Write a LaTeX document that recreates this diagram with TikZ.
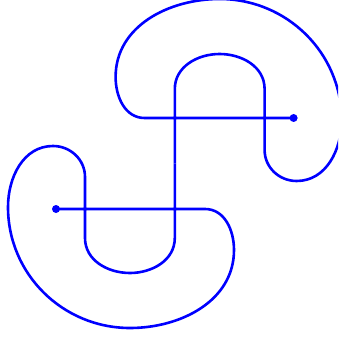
\documentclass[tikz,border=0pt]{standalone}
\begin{document}
\begin{tikzpicture}[x=1pt,y=-1pt,
  curve/.style={draw=blue,line width=2.6pt,line join=round},
  dotmark/.style={fill=blue}]
\useasboundingbox (0,0) rectangle (338,339);
\clip (0,0) rectangle (338,339);
\foreach \r in {0,180}{
\begin{scope}[rotate around={\r:(174.8,163.5)}]
  \path[curve] (174.8,163.5) -- (174.8,238) to[out=-90,in=0] (130,273)
     to[out=180,in=-90] (85,238) -- (85,177) to[out=90,in=0] (53,146)
     to[out=180,in=90] (8,207) to[out=-90,in=180] (130,328)
     to[out=0,in=-90] (234,250) to[out=90,in=0] (205,209) -- (56,209);
  \fill[dotmark] (56,209) circle (4pt);
\end{scope}}
\end{tikzpicture}
\end{document}
